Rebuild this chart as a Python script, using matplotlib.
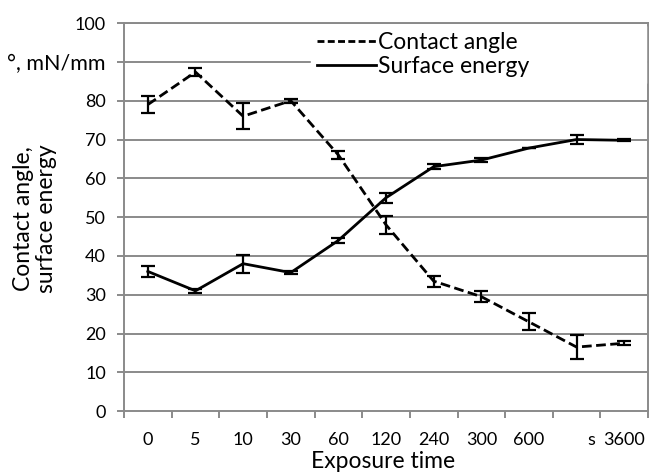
import matplotlib.pyplot as plt
from matplotlib.lines import Line2D
from matplotlib.transforms import ScaledTranslation
import numpy as np

plt.rcParams['font.family'] = ['Lato', 'DejaVu Sans']

times = ["0", "5", "10", "30", "60", "120", "240", "300", "600", "s", "3600"]
contact_angle = [79, 87.4, 76, 80, 66, 48, 33.5, 29.5, 23, 16.5, 17.5]
contact_err = [2.2, 1.0, 3.3, 0.5, 1.0, 2.4, 1.4, 1.5, 2.2, 3.1, 0.5]
surface_energy = [36, 31, 38, 35.7, 44, 55, 63, 64.7, 67.8, 70, 69.8]
surface_err = [1.4, 0.6, 2.3, 0.4, 0.7, 1.3, 0.7, 0.6, 0.0, 1.2, 0.3]
yticks = [0, 10, 20, 30, 40, 50, 60, 70, 80, 90, 100]
ytick_labels = ["0", "10", "20", "30", "40", "50", "60", "70", "80", "°, mN/mm", "100"]

fig = plt.figure(figsize=(6.51, 4.72), dpi=100)
ax = fig.add_axes([0.1905, 0.129, 0.805, 0.822])

x = np.arange(len(times))
gray = "#8a8a8a"
dash = (0, (3.5, 1.6))

for yv in yticks[1:]:
    ax.axhline(yv, color=gray, lw=1.4, zorder=0)

ax.errorbar(x, contact_angle, yerr=contact_err, color="black", lw=2,
            ls=dash, capsize=5, elinewidth=1.6, capthick=1.6, zorder=3)
ax.errorbar(x, surface_energy, yerr=surface_err, color="black", lw=2,
            ls="-", capsize=5, elinewidth=1.6, capthick=1.6, zorder=3)

ax.set_xlim(-0.5, 10.5)
ax.set_ylim(0, 100)
ax.set_yticks(yticks)
ax.set_yticklabels(ytick_labels)
ax.set_xticks(x)
ax.set_xticklabels(times)
ax.set_xticks(np.arange(-0.5, 11, 1), minor=True)
ax.tick_params(axis="x", which="major", length=0, pad=15, labelsize=13)
ax.tick_params(axis="x", which="minor", length=5, width=1.4, color=gray, direction="out")
ax.tick_params(axis="y", length=5, width=1.4, color=gray, labelsize=13, pad=8)
ax.get_yticklabels()[9].set_fontsize(15.5)
lbl = ax.get_xticklabels()[9]
lbl.set_transform(lbl.get_transform() + ScaledTranslation(0.145, 0, fig.dpi_scale_trans))

for sp in ax.spines.values():
    sp.set_color(gray)
    sp.set_linewidth(1.4)

ax.set_xlabel("Exposure time", fontsize=16.5)
ax.xaxis.label.set_va("center")
ax.xaxis.set_label_coords(0.494, -0.131)
ax.set_ylabel("Contact angle,\nsurface energy", fontsize=16.5, linespacing=1.15)
ax.yaxis.label.set_va("center")
ax.yaxis.set_label_coords(-0.17, 0.497)

handles = [Line2D([], [], color="black", lw=2, ls=(0, (2.5, 1.2))),
           Line2D([], [], color="black", lw=2, ls="-")]
leg = ax.legend(handles, ["Contact angle", "Surface energy"],
                loc="upper left", bbox_to_anchor=(0.357, 0.8, 0.64, 0.193),
                mode="expand", borderaxespad=0, frameon=True,
                fontsize=16.5, handlelength=2.6, handletextpad=0.05,
                borderpad=0.25, labelspacing=0.15, fancybox=False)
leg.get_frame().set_edgecolor("white")
leg.get_frame().set_facecolor("white")
leg.get_frame().set_alpha(1)
leg.set_zorder(5)

fig.savefig("out.png", dpi=100)
